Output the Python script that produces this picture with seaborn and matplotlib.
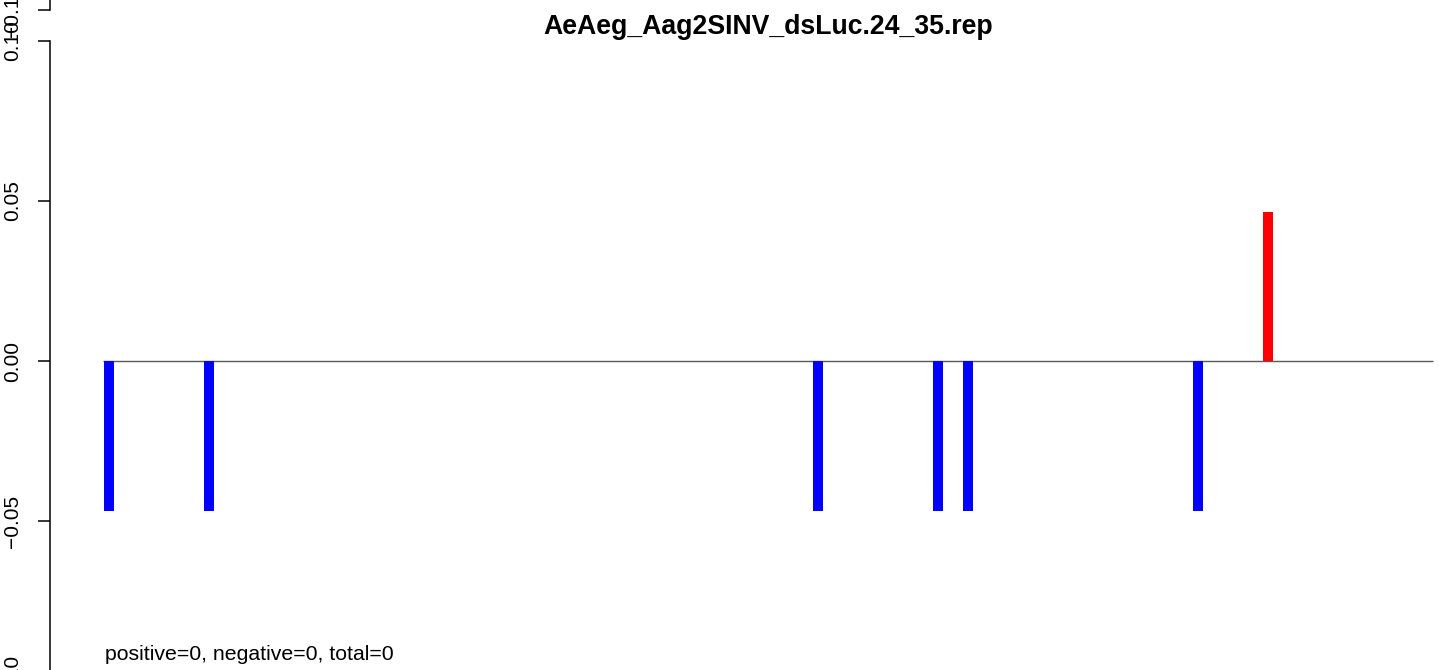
import matplotlib
matplotlib.use("Agg")
import matplotlib.pyplot as plt
import numpy as np
import pandas as pd
import seaborn as sns

sns.set_theme(style="white")
plt.rcParams["font.family"] = ["Liberation Sans", "DejaVu Sans"]

TITLE = "AeAeg_Aag2SINV_dsLuc.24_35.rep"
FOOTER = "positive=0, negative=0, total=0"

# read positions (arbitrary units) and heights off the picture
positions = [1.2, 21.2, 143, 167, 173, 219, 233]
values = [-0.047, -0.047, -0.047, -0.047, -0.047, -0.047, 0.0466]
x_range = [0, 266]
y_ticks = [-0.10, -0.05, 0.00, 0.05, 0.10]
y_tick_labels = ["\u22120.10", "\u22120.05", "0.00", "0.05", "0.10"]
prev_tick = [-0.10]
prev_tick_label = ["\u22120.10"]

W, H = 1439, 670
PX_PER_Y = 3200.0   # pixels per y unit
ZERO_PX = 361       # y pixel of the zero line


def main():
    df = pd.DataFrame({"position": positions, "value": values})
    df["strand"] = np.where(df["value"] > 0, "positive", "negative")

    fig = plt.figure(figsize=(W / 100, H / 100), dpi=100)

    # main panel, extends a bit past the bottom edge like the cropped original
    extra = 30
    ax = fig.add_axes([50 / W, -extra / H, 1436 / W, (H + extra) / H])
    ax.set_facecolor("none")

    ax.hlines(0, x_range[0], x_range[1], color="#5a5a5a", lw=1.0, zorder=0.5)
    sns.barplot(data=df, x="position", y="value", hue="strand",
                palette={"positive": "#FF0000", "negative": "#0000FF"},
                native_scale=True, dodge=False, width=1 / 3, saturation=1,
                linewidth=0, errorbar=None, legend=False, ax=ax, zorder=2)

    pad = 0.04 * (x_range[1] - x_range[0])
    ax.set_xlim(x_range[0] - pad, x_range[1] + pad)
    ax.set_ylim((ZERO_PX - H - extra) / PX_PER_Y, ZERO_PX / PX_PER_Y)

    for s in ["top", "right", "bottom"]:
        ax.spines[s].set_visible(False)
    ax.spines["left"].set_bounds(y_ticks[0], y_ticks[-1])
    ax.spines["left"].set_color("black")
    ax.spines["left"].set_linewidth(1.1)
    ax.set_xticks([])
    ax.set_xlabel("")
    ax.set_ylabel("")
    ax.set_yticks(y_ticks)
    ax.set_yticklabels(y_tick_labels, rotation=90, va="center")
    ax.tick_params(axis="y", left=True, length=8.6, width=1.1, color="black",
                   pad=11.5, labelsize=15, labelcolor="black")

    ax.text(x_range[0] + 0.4, (ZERO_PX - 655) / PX_PER_Y, FOOTER, ha="left",
            va="center", fontsize=15.3, color="black")
    ax.text(0.5, 1 - 34 / (H + extra), TITLE, transform=ax.transAxes,
            ha="center", va="baseline", fontsize=19.2, fontweight="bold",
            color="black")

    # bottom end of the panel above, cut off by the crop
    ax_top = fig.add_axes([50 / W, 1 - 10 / H, 1436 / W, 10 / H])
    ax_top.set_facecolor("none")
    ax_top.set_ylim(prev_tick[0], prev_tick[0] + 10 / PX_PER_Y)
    for s in ["top", "right", "bottom"]:
        ax_top.spines[s].set_visible(False)
    ax_top.spines["left"].set_color("black")
    ax_top.spines["left"].set_linewidth(1.1)
    ax_top.set_xticks([])
    ax_top.set_yticks(prev_tick)
    ax_top.set_yticklabels(prev_tick_label, rotation=90, va="center")
    ax_top.tick_params(axis="y", left=True, length=8.6, width=1.1, color="black",
                       pad=11.5, labelsize=15, labelcolor="black")

    fig.savefig("out.png", dpi=100)
    plt.close(fig)


if __name__ == "__main__":
    main()
